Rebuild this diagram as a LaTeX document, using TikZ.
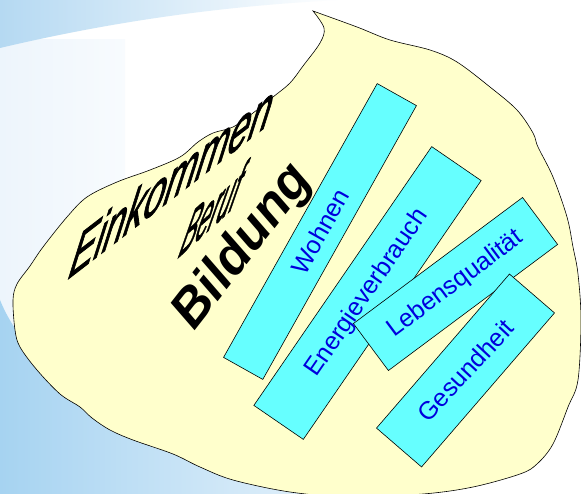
\documentclass[tikz,border=0pt]{standalone}
\usepackage{fontspec}
\setmainfont{Liberation Sans}
\newfontface\wordartit{Liberation Sans Italic}[FakeBold=2]
\definecolor{blobyellow}{HTML}{FFFFCC}
\definecolor{boxcyan}{HTML}{66FFFF}
\definecolor{skyband}{HTML}{B5D9F2}
\definecolor{skypale}{HTML}{EDF5FC}
\definecolor{skydeep}{HTML}{A6D3F1}
\definecolor{labelblue}{HTML}{0000DD}

\begin{document}
\begin{tikzpicture}[x=1pt, y=1pt,
      topic/.style = {draw, fill=boxcyan, line width=0.6pt, inner sep=0pt},
      topiclabel/.style = {text=labelblue, font=\fontsize{25}{30}\selectfont},
      bigword/.style = {anchor=base west, inner sep=0pt}]
    % background
    \useasboundingbox (0,0) rectangle (581,-494);
    \fill[white] (0,0) rectangle (581,-494);
    \shade[left color=skypale, right color=skypale!40] (0,-40) rectangle (125,-494);
    \shade[left color=skyband, right color=white]
      (0,0) -- (340,0) .. controls (220,-6) and (110,-22) .. (0,-48) -- cycle;
    \shade[left color=skydeep, right color=skypale!50]
      (0,-300) .. controls (40,-400) and (200,-470) .. (430,-494) -- (0,-494) -- cycle;

    % blob
    \draw[fill=blobyellow, line width=0.6pt] (313,-11)
      plot[smooth, tension=0.55] coordinates {(313,-11) (324,-28) (320,-43) (303,-66)
        (290,-83) (273,-97) (253,-113) (233,-127) (213,-133) (198,-142)
        (180,-157) (150,-170) (117,-182) (87,-197) (67,-217) (43,-247)
        (30,-266) (17,-284) (13,-300) (15,-330) (20,-347) (37,-370)
        (60,-394) (80,-407) (92,-418) (110,-430) (133,-440) (173,-454)
        (200,-467) (233,-480) (290,-492) (350,-497) (423,-494) (473,-487)
        (520,-474) (537,-464) (553,-444) (568,-407) (578,-380) (581,-320)
        (578,-274) (573,-247) (567,-217) (553,-177) (538,-147) (533,-133)
        (517,-110) (490,-87) (457,-62) (430,-50) (390,-40) (357,-27) (313,-11)}
      -- cycle;

    % big words
    \node[bigword, cm={0.792,0.610,0.3,1.32,(0,0)},
      font=\wordartit\fontsize{48}{52}\selectfont] (einkommen) at (67,-280) {Einkommen};
    \node[bigword, cm={0.743,0.669,0.64,2.1,(0,0)},
      font=\wordartit\fontsize{32}{36}\selectfont] (beruf) at (177,-259) {Beruf};
    \node[bigword, rotate=52,
      font=\bfseries\itshape\fontsize{52}{56}\selectfont] (bildung) at (194,-332) {Bildung};

    % boxes
    \node[topic, minimum width=314pt, minimum height=45pt, rotate=60.7]
      (wohnen) at (320,-231.5) {};
    \node[topic, minimum width=314pt, minimum height=60pt, rotate=55.5]
      (energie) at (367.5,-293) {};
    \node[topic, minimum width=211pt, minimum height=58.6pt, rotate=36.7]
      (leben) at (455.5,-284) {};
    \node[topic, minimum width=203.5pt, minimum height=59.5pt, rotate=49.2]
      (gesund) at (465.5,-370.5) {};

    % box labels
    \node[topiclabel, rotate=60.7] (wohnentext) at (wohnen) {Wohnen};
    \node[topiclabel, rotate=55.5] (energietext) at (energie) {Energieverbrauch};
    \node[topiclabel, rotate=36.7] (lebentext) at (leben) {Lebensqualität};
    \node[topiclabel, rotate=47] (gesundtext) at (gesund) {Gesundheit};

  \end{tikzpicture}
\end{document}
